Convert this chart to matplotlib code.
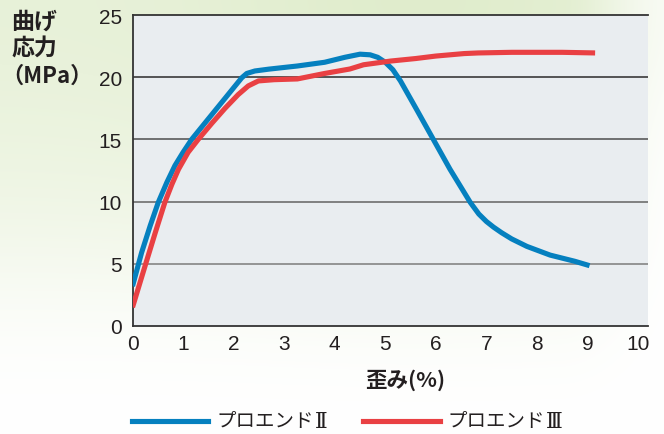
import numpy as np
import matplotlib
matplotlib.use("Agg")
import matplotlib.pyplot as plt
from matplotlib.lines import Line2D

# ---- data ----
blue_x = [0, 0.18, 0.35, 0.51, 0.68, 0.84, 1.0, 1.17, 1.43, 1.63, 1.83, 2.03, 2.16, 2.26, 2.42,
          2.7, 3.26, 3.8, 4.2, 4.5, 4.7, 4.85, 5.0, 5.15, 5.3, 5.62, 5.95, 6.28, 6.68, 6.85,
          7.0, 7.14, 7.3, 7.5, 7.8, 8.26, 8.75, 9.04]
blue_y = [3.2, 5.9, 8.06, 9.94, 11.55, 12.9, 13.96, 15.0, 16.3, 17.3, 18.3, 19.3, 19.95, 20.3, 20.5,
          20.65, 20.9, 21.2, 21.6, 21.85, 21.8, 21.6, 21.2, 20.6, 19.7, 17.4, 15.0, 12.6, 9.94, 9.0,
          8.4, 7.95, 7.5, 7.0, 6.4, 5.7, 5.2, 4.85]
red_x = [0, 0.25, 0.45, 0.64, 0.78, 0.91, 1.10, 1.30, 1.57, 1.83, 2.09, 2.29, 2.49, 2.8, 3.26,
         3.8, 4.3, 4.57, 5.11, 5.6, 6.0, 6.56, 6.84, 7.5, 8.0, 8.5, 9.15]
red_y = [1.5, 4.85, 7.5, 9.94, 11.4, 12.6, 13.96, 15.0, 16.3, 17.5, 18.6, 19.3, 19.7, 19.8, 19.86,
         20.3, 20.66, 21.0, 21.3, 21.5, 21.7, 21.9, 21.95, 22.0, 22.0, 22.0, 21.95]
series_base = ["プロエンド", "プロエンド"]
series_num = ["Ⅱ", "Ⅲ"]
x_ticks = [0, 1, 2, 3, 4, 5, 6, 7, 8, 9, 10]
y_ticks = [0, 5, 10, 15, 20, 25]

BLUE = "#0580bf"
RED = "#e94043"
TXT = "#231f20"
CJK = ["Noto Sans CJK JP", "DejaVu Sans"]
NUM = ["Liberation Sans", "DejaVu Sans"]
SERIF = ["DejaVu Serif", "Noto Sans CJK JP"]

W, H = 664, 435
fig = plt.figure(figsize=(W / 100, H / 100), dpi=100)

# background gradient
bg = fig.add_axes([0, 0, 1, 1], zorder=-10)
yy, xx = np.mgrid[0:H, 0:W].astype(float)
t = 0.55 * np.exp(-(yy / 290.0) ** 4)
t *= np.where(xx < 560, 1.0, np.exp(-((xx - 560) / 70.0) ** 2)) * 0.8 + 0.2 * np.exp(-(yy / 120.0) ** 2)
t *= (0.75 + 0.25 * np.exp(-((xx - 420) / 200.0) ** 2))
green = np.array([0.78, 0.87, 0.64])
img = 1 - t[..., None] * (1 - green[None, None, :])
bg.imshow(img, aspect="auto", extent=[0, W, H, 0])
bg.axis("off")

x0, x1 = 132.5, 647.7
ytop, ybot = 16, 327
ax = fig.add_axes([x0 / W, 1 - ybot / H, (x1 - x0) / W, (ybot - ytop) / H])
ax.set_facecolor("#e9edf0")
ax.set_xlim(0, 10.19)
ax.set_ylim(0, 25)

grid_cols = {5: "#858585", 10: "#6e6e6e", 15: "#5a5a5a", 20: "#3a3a3a"}
for v, c in grid_cols.items():
    ax.axhline(v, color=c, lw=1.2, zorder=1)

ax.plot(blue_x, blue_y, color=BLUE, lw=3.7, solid_joinstyle="round", solid_capstyle="butt", zorder=3)
ax.plot(red_x, red_y, color=RED, lw=3.7, solid_joinstyle="round", solid_capstyle="butt", zorder=3)

for s in ["left", "bottom", "top"]:
    ax.spines[s].set_color("#333333")
    ax.spines[s].set_linewidth(1.3)
ax.spines["right"].set_visible(False)

ax.set_xticks(x_ticks)
ax.set_yticks(y_ticks)
ax.tick_params(length=0, labelsize=15, labelcolor=TXT)
ax.tick_params(axis="x", pad=6)
ax.tick_params(axis="y", pad=7.5)
for lab in ax.get_xticklabels() + ax.get_yticklabels():
    lab.set_family(NUM)

# axis titles
fig.text(11 / W, 1 - 22.5 / H, "曲げ", family=CJK, fontsize=16.5, fontweight="bold",
         color=TXT, ha="left", va="center")
fig.text(11 / W, 1 - 48.5 / H, "応力", family=CJK, fontsize=16.5, fontweight="bold",
         color=TXT, ha="left", va="center")
fig.text(1 / W, 1 - 76 / H, "（MPa）", family=CJK, fontsize=16, fontweight="bold",
         color=TXT, ha="left", va="center")
fig.text(405 / W, 1 - 380 / H, "歪み(%)", family=CJK, fontsize=15.5, fontweight="bold",
         color=TXT, ha="center", va="center")

# legend
ly = 1 - 422 / H
fig.add_artist(Line2D([132 / W, 208 / W], [ly, ly], color=BLUE, lw=3.7, transform=fig.transFigure))
fig.add_artist(Line2D([363 / W, 440 / W], [ly, ly], color=RED, lw=3.7, transform=fig.transFigure))
fig.canvas.draw()
r = fig.canvas.get_renderer()
for xs, base, num in zip([216, 447], series_base, series_num):
    t1 = fig.text(xs / W, ly, base, family=CJK, fontsize=14, color=TXT, ha="left", va="center")
    bb = t1.get_window_extent(renderer=r)
    fig.text(bb.x1 / W + 1 / W, ly, num, family=SERIF, fontsize=15.5, color=TXT,
             ha="left", va="center")

fig.savefig("out.png", dpi=100)
